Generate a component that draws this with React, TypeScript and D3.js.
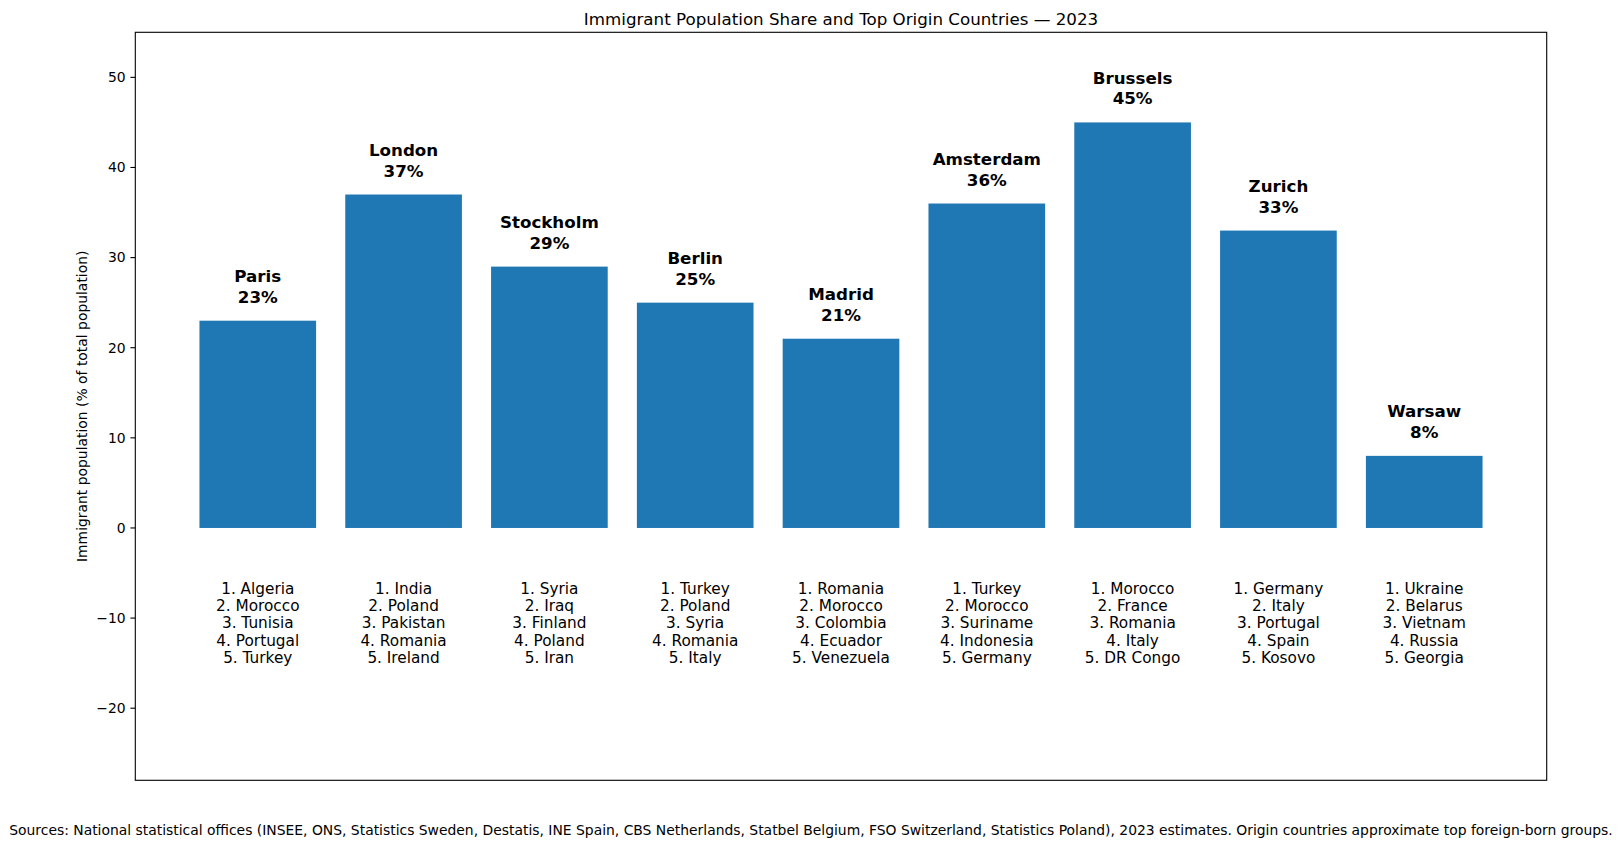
import React from "react";
import * as d3 from "d3";

const cities = ["Paris", "London", "Stockholm", "Berlin", "Madrid", "Amsterdam", "Brussels", "Zurich", "Warsaw"];
const shares = [23, 37, 29, 25, 21, 36, 45, 33, 8];
const origins = [
  ["Algeria", "Morocco", "Tunisia", "Portugal", "Turkey"],
  ["India", "Poland", "Pakistan", "Romania", "Ireland"],
  ["Syria", "Iraq", "Finland", "Poland", "Iran"],
  ["Turkey", "Poland", "Syria", "Romania", "Italy"],
  ["Romania", "Morocco", "Colombia", "Ecuador", "Venezuela"],
  ["Turkey", "Morocco", "Suriname", "Indonesia", "Germany"],
  ["Morocco", "France", "Romania", "Italy", "DR Congo"],
  ["Germany", "Italy", "Portugal", "Spain", "Kosovo"],
  ["Ukraine", "Belarus", "Vietnam", "Russia", "Georgia"],
];
const yTicks = [-20, -10, 0, 10, 20, 30, 40, 50];

const title = "Immigrant Population Share and Top Origin Countries — 2023";
const yLabel = "Immigrant population (% of total population)";
const source =
  "Sources: National statistical offices (INSEE, ONS, Statistics Sweden, Destatis, INE Spain, CBS Netherlands, Statbel Belgium, FSO Switzerland, Statistics Poland), 2023 estimates. Origin countries approximate top foreign-born groups.";

const width = 1622;
const height = 848;
const plot = { left: 135.3, right: 1546.7, top: 32.3, bottom: 780.3 };
const font = "'DejaVu Sans', sans-serif";

const App: React.FC = () => {
  // matplotlib-style linear x: centers at 0..n-1, bar width 0.8, 5% margins
  const n = cities.length;
  const span = n - 0.2;
  const xScale = d3
    .scaleLinear()
    .domain([-0.4 - 0.05 * span, n - 0.6 + 0.05 * span])
    .range([plot.left, plot.right]);
  const barW = xScale(0.8) - xScale(0);

  const yScale = d3.scaleLinear().domain([-28, 55]).range([plot.bottom, plot.top]);

  const fmt = (t: number) => (t < 0 ? `\u2212${Math.abs(t)}` : `${t}`);

  return (
    <svg
      width={width}
      height={height}
      style={{ position: "absolute", left: 0, top: 0, background: "white" }}
      fontFamily={font}
    >
      <rect x={0} y={0} width={width} height={height} fill="white" />

      {/* bars */}
      {shares.map((v, i) => (
        <rect
          key={cities[i]}
          x={xScale(i) - barW / 2}
          y={yScale(v)}
          width={barW}
          height={yScale(0) - yScale(v)}
          fill="#1f77b4"
        />
      ))}

      {/* city + value labels above bars */}
      {shares.map((v, i) => (
        <text
          key={`lbl-${i}`}
          x={xScale(i)}
          y={yScale(v) - 18}
          textAnchor="middle"
          fontSize={16.7}
          fontWeight="bold"
          fill="black"
        >
          <tspan x={xScale(i)} dy={-20.7}>
            {cities[i]}
          </tspan>
          <tspan x={xScale(i)} dy={20.7}>
            {v}%
          </tspan>
        </text>
      ))}

      {/* origin countries below zero */}
      {origins.map((list, i) => (
        <text key={`org-${i}`} textAnchor="middle" fontSize={15.3} fill="black">
          {list.map((c, k) => (
            <tspan key={c} x={xScale(i)} y={594 + k * 17.2}>
              {`${k + 1}. ${c}`}
            </tspan>
          ))}
        </text>
      ))}

      {/* y axis ticks */}
      {yTicks.map((t) => (
        <g key={t} transform={`translate(0, ${yScale(t)})`}>
          <line x1={plot.left - 4.9} x2={plot.left} stroke="black" strokeWidth={1.1} />
          <text
            x={plot.left - 9.7}
            y={0}
            dy="0.35em"
            textAnchor="end"
            fontSize={13.9}
            fill="black"
          >
            {fmt(t)}
          </text>
        </g>
      ))}

      {/* frame */}
      <rect
        x={plot.left}
        y={plot.top}
        width={plot.right - plot.left}
        height={plot.bottom - plot.top}
        fill="none"
        stroke="black"
        strokeWidth={1.1}
      />

      <text
        transform={`translate(87, ${(plot.top + plot.bottom) / 2}) rotate(-90)`}
        textAnchor="middle"
        fontSize={13.9}
        fill="black"
      >
        {yLabel}
      </text>

      <text x={(plot.left + plot.right) / 2} y={24.5} textAnchor="middle" fontSize={16.7} fill="black">
        {title}
      </text>

      <text x={width / 2} y={835} textAnchor="middle" fontSize={13.9} fill="black">
        {source}
      </text>
    </svg>
  );
};

export default App;
